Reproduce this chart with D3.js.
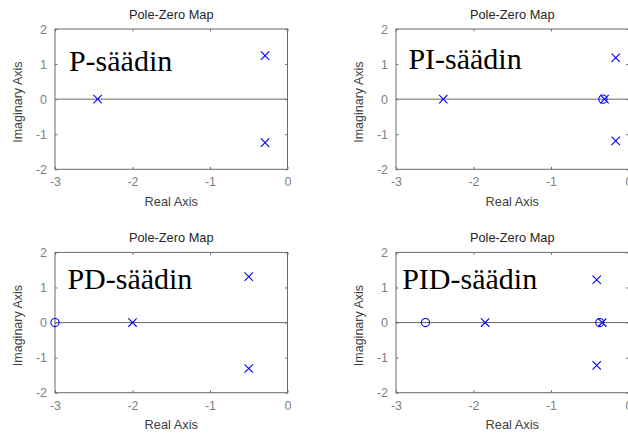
<!DOCTYPE html>
<html><head><meta charset="utf-8">
<script src="https://cdn.jsdelivr.net/npm/d3@7"></script>
<style>
html,body{margin:0;padding:0;background:#fff;}
svg{display:block;}
text{font-family:"Liberation Sans",Arial,sans-serif;}
</style></head>
<body>
<svg id="c" width="628" height="435"></svg>
<script>
// ---- data ----
const xTicks = [-3, -2, -1, 0];
const yTicks = [-2, -1, 0, 1, 2];
const panelTitles = ["Pole-Zero Map", "Pole-Zero Map", "Pole-Zero Map", "Pole-Zero Map"];
const panelLabels = ["P-säädin", "PI-säädin", "PD-säädin", "PID-säädin"];
const labelRe = [-2.82, -2.84, -2.84, -2.92];
const labelIm = [0.81, 0.86, 0.96, 0.96];

const pPolesRe = [-2.45, -0.29, -0.29];
const pPolesIm = [0, 1.24, -1.24];
const pZerosRe = [];
const pZerosIm = [];

const piPolesRe = [-2.39, -0.31, -0.165, -0.165];
const piPolesIm = [0, 0, 1.18, -1.19];
const piZerosRe = [-0.33];
const piZerosIm = [0];

const pdPolesRe = [-2.0, -0.5, -0.5];
const pdPolesIm = [0, 1.31, -1.31];
const pdZerosRe = [-3.0];
const pdZerosIm = [0];

const pidPolesRe = [-1.85, -0.34, -0.41, -0.41];
const pidPolesIm = [0, 0, 1.22, -1.22];
const pidZerosRe = [-2.62, -0.37];
const pidZerosIm = [0, 0];

const xLabel = "Real Axis";
const yLabel = "Imaginary Axis";

// ---- layout ----
const svg = d3.select("#c");
const W = 232.5, H = 140.3;
const panels = [
  {x: 55, y: 29, pr: pPolesRe, pi: pPolesIm, zr: pZerosRe, zi: pZerosIm},
  {x: 396, y: 29, pr: piPolesRe, pi: piPolesIm, zr: piZerosRe, zi: piZerosIm},
  {x: 55, y: 252.4, pr: pdPolesRe, pi: pdPolesIm, zr: pdZerosRe, zi: pdZerosIm},
  {x: 396, y: 252.4, pr: pidPolesRe, pi: pidPolesIm, zr: pidZerosRe, zi: pidZerosIm}
];
const boxColor = "#6a6a6a", tickColor = "#808080", blue = "#0000ff";
const fs = 12.5, tl = 2.4;

panels.forEach((p, k) => {
  const g = svg.append("g").attr("transform", `translate(${p.x},${p.y})`);
  const x = d3.scaleLinear().domain([-3, 0]).range([0, W]);
  const y = d3.scaleLinear().domain([-2, 2]).range([H, 0]);

  // zero line
  g.append("line").attr("x1", x(-3)).attr("x2", x(0)).attr("y1", y(0)).attr("y2", y(0))
    .attr("stroke", boxColor).attr("stroke-width", 1);

  // axes with inward ticks
  const axB = d3.axisBottom(x).tickValues(xTicks).tickSizeInner(-tl).tickSizeOuter(0).tickPadding(8);
  const axT = d3.axisTop(x).tickValues(xTicks).tickSizeInner(-tl).tickSizeOuter(0).tickFormat("");
  const axL = d3.axisLeft(y).tickValues(yTicks).tickSizeInner(-tl).tickSizeOuter(0).tickPadding(8);
  const axR = d3.axisRight(y).tickValues(yTicks).tickSizeInner(-tl).tickSizeOuter(0).tickFormat("");
  const fmt = d => d < 0 ? "-" + Math.abs(d) : String(d);
  axB.tickFormat(fmt); axL.tickFormat(fmt);
  [[axB, `translate(0,${H})`], [axT, "translate(0,0)"], [axL, "translate(0,0)"], [axR, `translate(${W},0)`]]
    .forEach(([ax, tr]) => {
      const a = g.append("g").attr("transform", tr).call(ax);
      a.select(".domain").remove();
      a.selectAll(".tick line").attr("stroke", boxColor);
      a.selectAll(".tick text").attr("fill", tickColor).style("font-size", fs + "px")
        .style("font-family", '"Liberation Sans",Arial,sans-serif');
    });
  g.append("rect").attr("x", 0).attr("y", 0).attr("width", W).attr("height", H)
    .attr("fill", "none").attr("stroke", boxColor).attr("stroke-width", 1);

  // title & axis labels
  g.append("text").attr("x", W / 2).attr("y", -10.5).attr("text-anchor", "middle")
    .attr("fill", "#262626").style("font-size", "12.8px").text(panelTitles[k]);
  g.append("text").attr("x", W / 2).attr("y", H + 36.5).attr("text-anchor", "middle")
    .attr("fill", "#404040").style("font-size", "12.8px").text(xLabel);
  g.append("text").attr("transform", `translate(${-33},${H / 2 + 3}) rotate(-90)`)
    .attr("text-anchor", "middle").attr("fill", "#404040").style("font-size", fs + "px").text(yLabel);

  // annotation
  g.append("text").attr("x", x(labelRe[k])).attr("y", y(labelIm[k]))
    .style("font-family", '"Liberation Serif","Times New Roman",serif').style("font-size", "30px")
    .attr("fill", "#000").text(panelLabels[k]);

  // zeros (circles)
  const zeros = p.zr.map((r, i) => [r, p.zi[i]]);
  g.selectAll(".z").data(zeros).enter().append("circle")
    .attr("cx", d => x(d[0])).attr("cy", d => y(d[1])).attr("r", 4.1)
    .attr("fill", "none").attr("stroke", blue).attr("stroke-width", 1.1);

  // poles (crosses)
  const poles = p.pr.map((r, i) => [r, p.pi[i]]);
  const s = 4.2;
  g.selectAll(".p").data(poles).enter().append("path")
    .attr("d", d => {
      const cx = x(d[0]), cy = y(d[1]);
      return `M${cx - s},${cy - s}L${cx + s},${cy + s}M${cx - s},${cy + s}L${cx + s},${cy - s}`;
    })
    .attr("fill", "none").attr("stroke", blue).attr("stroke-width", 1.1);
});
</script>
</body></html>
